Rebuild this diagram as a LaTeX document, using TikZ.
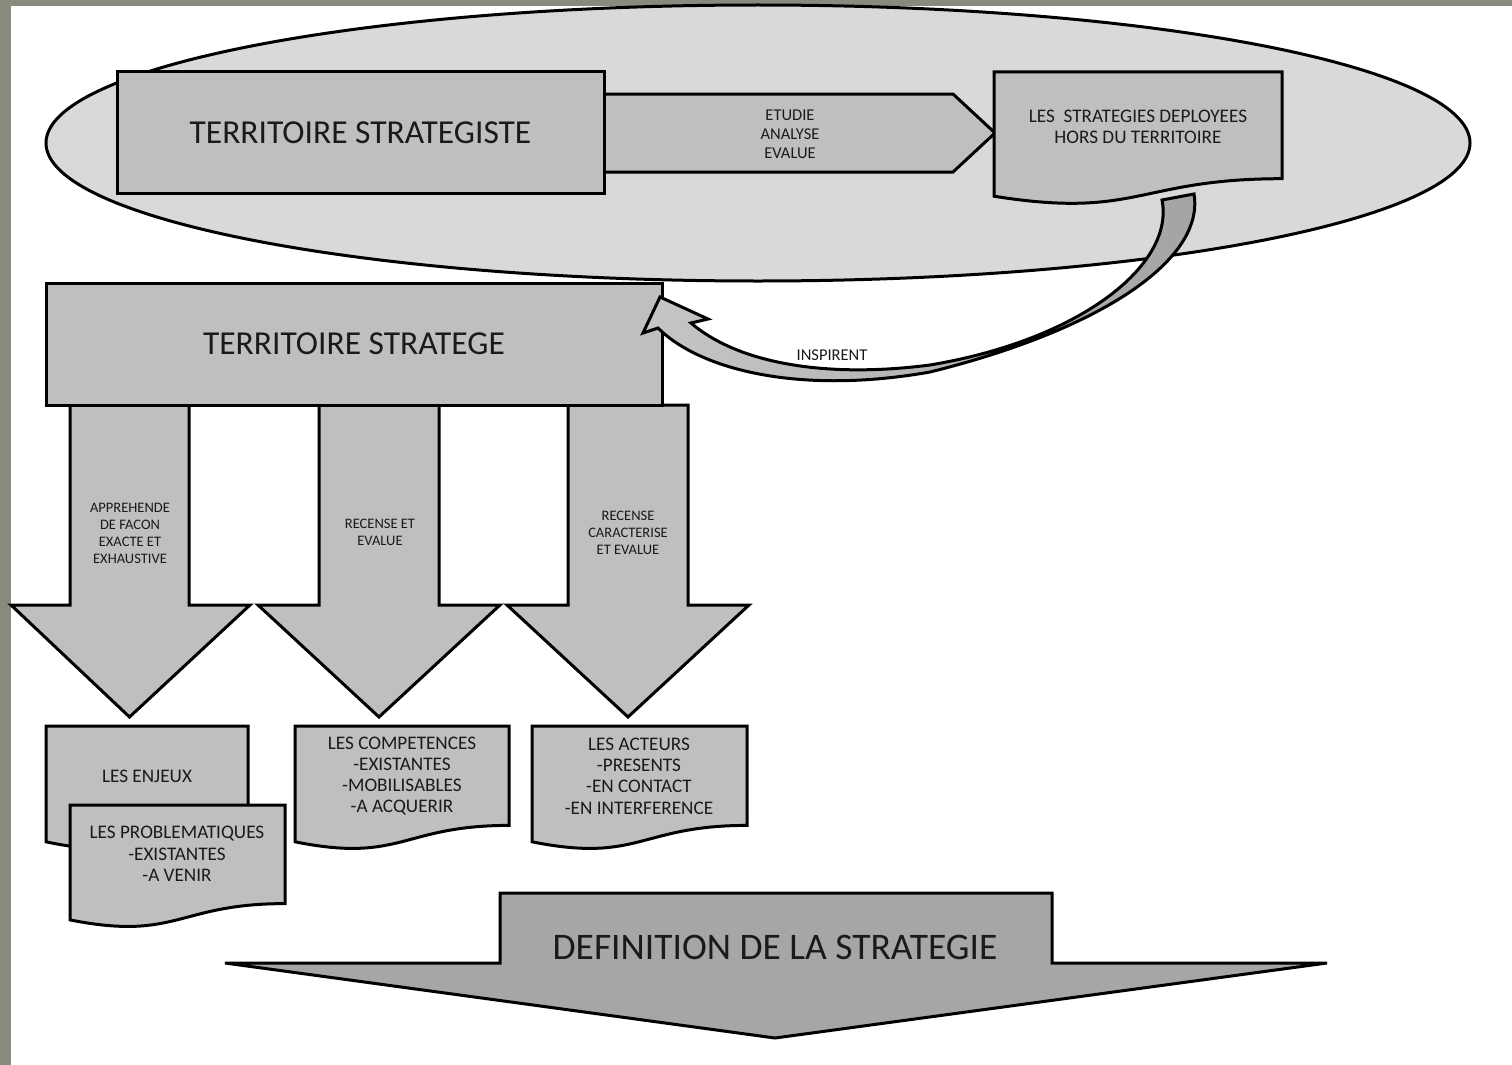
\documentclass[tikz,border=0pt]{standalone}
\usepackage{fontspec}
\setmainfont{Carlito}
\usetikzlibrary{shapes.geometric}
\definecolor{bordergray}{HTML}{878A7C}
\definecolor{ellfill}{HTML}{D9D9D9}
\definecolor{boxfill}{HTML}{BFBFBF}
\definecolor{deffill}{HTML}{A6A6A6}
\definecolor{txt}{HTML}{1A1A1A}
\begin{document}
\begin{tikzpicture}[x=1pt,y=-1pt,
  outline/.style={draw=black,line width=3pt},
  box/.style={outline,fill=boxfill,rectangle,inner sep=0pt},
  big/.style={font=\fontsize{33.5}{36}\selectfont,text=txt},
  small/.style={font=\fontsize{16.5}{19}\selectfont,align=center,text=txt},
  arrtxt/.style={font=\fontsize{14.5}{17}\selectfont,align=center,text=txt},
  doctxt/.style={font=\fontsize{19.2}{21.3}\selectfont,align=center,text=txt}]
\useasboundingbox (0,0) rectangle (1512,1065);
\fill[bordergray] (0,0) rectangle (1512,1065);
\fill[white] (11,6) rectangle (1512,1065);

% ellipse
\node[ellipse,outline,fill=ellfill,minimum width=1424pt,minimum height=276pt,inner sep=0pt] (ell) at (758,143) {};

% etudie arrow
\draw[outline,fill=boxfill] (604,94) -- (953,94) -- (995,133) -- (953,172) -- (604,172) -- cycle;
\node[small] (etu) at (790,134) {ETUDIE\\ANALYSE\\EVALUE};

\node[box,minimum width=487pt,minimum height=121pt,big] (tst) at (360.5,132.5) {TERRITOIRE STRATEGISTE};

% strategies document
\draw[outline,fill=boxfill] (994,72) -- (1282,72) -- (1282,178.7) .. controls (1138,178.7) and (1138,219.3) .. (994,196.2) -- cycle;
\node[doctxt] (strat) at (1138,126.5) {LES\ \ STRATEGIES DEPLOYEES\\HORS DU TERRITOIRE};

% down arrows
\draw[outline,fill=boxfill] (70,405) -- (189,405) -- (189,605) -- (250,605) -- (129.5,717) -- (11,605) -- (70,605) -- cycle;
\draw[outline,fill=boxfill] (319,405) -- (439,405) -- (439,605) -- (500,605) -- (379,717) -- (258,605) -- (319,605) -- cycle;
\draw[outline,fill=boxfill] (568,405) -- (688,405) -- (688,605) -- (749,605) -- (628,717) -- (507,605) -- (568,605) -- cycle;
\node[arrtxt] (a1) at (130,533) {APPREHENDE\\DE FACON\\EXACTE ET\\EXHAUSTIVE};
\node[arrtxt] (a2) at (380,532.5) {RECENSE ET\\EVALUE};
\node[arrtxt] (a3) at (628,532.5) {RECENSE\\CARACTERISE\\ET EVALUE};

\node[box,minimum width=616pt,minimum height=122pt,big] (tsg) at (354,344) {TERRITOIRE STRATEGE};

% curved arrow
\draw[outline,left color=gray!45,right color=gray!72] (1162,200) -- (1194,194)
  .. controls (1205,260) and (1100,330) .. (930,372)
  .. controls (800,395) and (700,370) .. (658,328)
  -- (643,333) -- (660,297) -- (708,319) -- (691,323)
  .. controls (740,365) and (830,378) .. (930,365)
  .. controls (1080,340) and (1175,265) .. (1162,200) -- cycle;
\node[small] (insp) at (832,355) {INSPIRENT};

% documents
\draw[outline,fill=boxfill] (46,726) -- (248,726) -- (248,825.4) .. controls (147,825.4) and (147,863.3) .. (46,841.8) -- cycle;
\node[doctxt] (enj) at (147,776) {LES ENJEUX};
\draw[outline,fill=boxfill] (70,805) -- (285,805) -- (285,903.6) .. controls (177.5,903.6) and (177.5,941.2) .. (70,919.9) -- cycle;
\node[doctxt] (prob) at (177,854) {LES PROBLEMATIQUES\\-EXISTANTES\\-A VENIR};
\draw[outline,fill=boxfill] (295,726) -- (509,726) -- (509,825.4) .. controls (402,825.4) and (402,863.3) .. (295,841.8) -- cycle;
\node[doctxt] (comp) at (402,776) {LES COMPETENCES\\-EXISTANTES\\-MOBILISABLES\\-A ACQUERIR};
\draw[outline,fill=boxfill] (532,726) -- (747,726) -- (747,825.4) .. controls (639.5,825.4) and (639.5,863.3) .. (532,841.8) -- cycle;
\node[doctxt] (act) at (639,776) {LES ACTEURS\\-PRESENTS\\-EN CONTACT\\-EN INTERFERENCE};

% definition arrow
\draw[outline,fill=deffill] (500,893) -- (1052,893) -- (1052,963) -- (1327,963) -- (775,1038) -- (225,963) -- (500,963) -- cycle;
\node[big,font=\fontsize{37.5}{40}\selectfont] (def) at (775,947) {DEFINITION DE LA STRATEGIE};
\end{tikzpicture}
\end{document}
